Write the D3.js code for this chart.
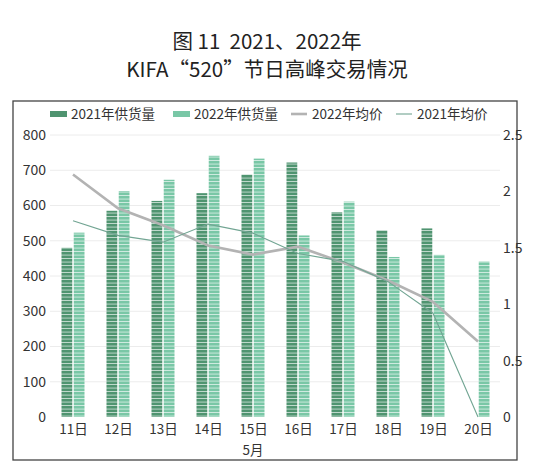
<!DOCTYPE html>
<html>
<head>
<meta charset="utf-8">
<script src="https://cdn.jsdelivr.net/npm/d3@7"></script>
<style>
    body { margin: 0; background: #fff; }
    svg { display: block; }
</style>
</head>
<body>
<div id="chart"></div>
<script>
    // data
    var days = ["11日", "12日", "13日", "14日", "15日", "16日", "17日", "18日", "19日", "20日"];
    var supply2021 = [480, 585, 613, 635, 688, 722, 581, 530, 535, 0];
    var supply2022 = [523, 641, 673, 741, 733, 515, 611, 454, 460, 441];
    var price2022 = [2.15, 1.85, 1.70, 1.52, 1.44, 1.51, 1.37, 1.21, 1.02, 0.67];
    var price2021 = [1.74, 1.61, 1.55, 1.71, 1.63, 1.45, 1.38, 1.20, 0.92, 0];
    var leftTicks = [0, 100, 200, 300, 400, 500, 600, 700, 800];
    var rightTicks = [0, 0.5, 1, 1.5, 2, 2.5];

    var width = 533, height = 471;
    var font = "'Noto Sans CJK SC', 'Noto Sans', sans-serif";
    var col2021 = "#4f9470", col2022 = "#79c7a6";
    var colLine22 = "#b3b3b3", colLine21 = "#72a593";

    var svg = d3.select("#chart").append("svg")
        .attr("width", width)
        .attr("height", height);

    // striped fills for the bars
    var defs = svg.append("defs");
    [["p2021", col2021], ["p2022", col2022]].forEach(function (p) {
        var pat = defs.append("pattern")
            .attr("id", p[0])
            .attr("patternUnits", "userSpaceOnUse")
            .attr("width", 4).attr("height", 3.5);
        pat.append("rect").attr("width", 4).attr("height", 3.5).attr("fill", p[1]);
        pat.append("rect").attr("y", 2.7).attr("width", 4).attr("height", 0.8)
            .attr("fill", "#fff").attr("opacity", 0.75);
    });

    // title (keep the double space)
    var title = svg.append("text")
        .attr("text-anchor", "middle")
        .attr("font-family", font)
        .attr("font-size", "20.5px")
        .attr("fill", "#222")
        .style("white-space", "pre");
    title.append("tspan").attr("x", 267).attr("y", 49).text("图 11  2021、2022年");
    title.append("tspan").attr("x", 267).attr("y", 77).text("KIFA“520”节日高峰交易情况");

    // frame
    svg.append("rect")
        .attr("x", 13).attr("y", 101)
        .attr("width", 504).attr("height", 359)
        .attr("fill", "none")
        .attr("stroke", "#444")
        .attr("stroke-width", 1.3);

    // scales
    var x = d3.scalePoint().domain(days).range([50.5, 500.5]).padding(0.5);
    var xSub = d3.scaleBand().domain(["2021", "2022"]).range([-11.5, 11.5]).paddingInner(0.12);
    var yL = d3.scaleLinear().domain([0, 800]).range([417, 135]);
    var yR = d3.scaleLinear().domain([0, 2.5]).range([417, 135]);

    // grid
    svg.append("g").selectAll("line")
        .data(leftTicks.slice(1))
        .enter().append("line")
        .attr("x1", 50).attr("x2", 500)
        .attr("y1", function (d) { return yL(d); })
        .attr("y2", function (d) { return yL(d); })
        .attr("stroke", "#ececec")
        .attr("stroke-width", 1);

    // left axis
    var axL = svg.append("g")
        .attr("transform", "translate(46,0)")
        .call(d3.axisLeft(yL).tickValues(leftTicks).tickSize(0).tickPadding(0));
    axL.select(".domain").remove();
    axL.selectAll("text")
        .attr("font-family", font).attr("font-size", "14px").attr("fill", "#333");

    // right axis
    var axR = svg.append("g")
        .attr("transform", "translate(503,0)")
        .call(d3.axisRight(yR).tickValues(rightTicks).tickSize(0).tickPadding(0)
            .tickFormat(function (d) { return String(d); }));
    axR.select(".domain").remove();
    axR.selectAll("text")
        .attr("font-family", font).attr("font-size", "14px").attr("fill", "#333");

    // bottom axis labels
    var axB = svg.append("g")
        .attr("transform", "translate(0,424)")
        .call(d3.axisBottom(x).tickSize(0).tickPadding(0));
    axB.select(".domain").remove();
    axB.selectAll("text")
        .attr("font-family", font).attr("font-size", "13.5px").attr("fill", "#333");

    svg.append("text")
        .text("5月")
        .attr("x", x("15日"))
        .attr("y", 455)
        .attr("text-anchor", "middle")
        .attr("font-family", font)
        .attr("font-size", "13.5px")
        .attr("fill", "#333");

    // bars
    svg.append("g").selectAll("rect")
        .data(supply2021)
        .enter().append("rect")
        .attr("x", function (d, i) { return x(days[i]) + xSub("2021"); })
        .attr("y", function (d) { return yL(d); })
        .attr("width", xSub.bandwidth())
        .attr("height", function (d) { return yL(0) - yL(d); })
        .attr("fill", "url(#p2021)");

    svg.append("g").selectAll("rect")
        .data(supply2022)
        .enter().append("rect")
        .attr("x", function (d, i) { return x(days[i]) + xSub("2022"); })
        .attr("y", function (d) { return yL(d); })
        .attr("width", xSub.bandwidth())
        .attr("height", function (d) { return yL(0) - yL(d); })
        .attr("fill", "url(#p2022)");

    // price lines
    var line = d3.line()
        .x(function (d, i) { return x(days[i]); })
        .y(function (d) { return yR(d); });

    svg.append("path")
        .datum(price2022)
        .attr("d", line)
        .attr("fill", "none")
        .attr("stroke", colLine22)
        .attr("stroke-width", 2.6);

    svg.append("path")
        .datum(price2021)
        .attr("d", line)
        .attr("fill", "none")
        .attr("stroke", colLine21)
        .attr("stroke-width", 1.1);

    // legend
    var legend = svg.append("g").attr("font-family", font).attr("font-size", "13.5px").attr("fill", "#333");
    var items = [
        { label: "2021年供货量", type: "bar", color: col2021, x: 50 },
        { label: "2022年供货量", type: "bar", color: col2022, x: 173 },
        { label: "2022年均价", type: "line", color: colLine22, w: 2.6, x: 291 },
        { label: "2021年均价", type: "line", color: colLine21, w: 1.1, x: 396 }
    ];
    items.forEach(function (it) {
        if (it.type === "bar") {
            legend.append("rect")
                .attr("x", it.x).attr("y", 111)
                .attr("width", 17).attr("height", 6)
                .attr("fill", it.color);
        } else {
            legend.append("line")
                .attr("x1", it.x).attr("x2", it.x + 16)
                .attr("y1", 114).attr("y2", 114)
                .attr("stroke", it.color)
                .attr("stroke-width", it.w);
        }
        legend.append("text")
            .attr("x", it.x + 21).attr("y", 119)
            .attr("fill", "#333")
            .text(it.label);
    });
</script>
</body>
</html>
